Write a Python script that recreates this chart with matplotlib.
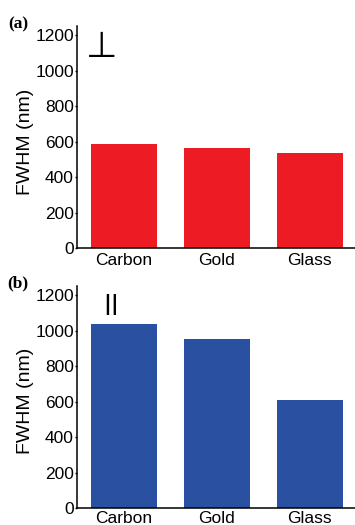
import numpy as np
import matplotlib
matplotlib.use('Agg')
import matplotlib.pyplot as plt

# data
materials = ['Carbon', 'Gold', 'Glass']
fwhm_perp = [587, 563, 535]      # (a) perpendicular polarisation
fwhm_par = [1040, 955, 612]      # (b) parallel polarisation
yticks = [0, 200, 400, 600, 800, 1000, 1200]

plt.rcParams['font.family'] = ['Liberation Sans', 'DejaVu Sans']

fig = plt.figure(figsize=(3.55, 5.25), dpi=100)
W, H = 355.0, 525.0

panels = [
    # (data, colour, axis-zero y px, symbol, sym pos, sym size, sym weight, label, label y px, ylabel y px, xtick pad)
    (fwhm_perp, '#ED1C24', 248.3, '\u22A5', (0.089, 0.908), 26, 'normal', '(a)', 24, 142, 3.5),
    (fwhm_par, '#2A51A1', 508.3, '||', (0.12, 0.92), 15.5, 'bold', '(b)', 283, 401, 1.8),
]

x = np.arange(1, len(materials) + 1)
for vals, col, y0, sym, spos, ssize, sw, lab, laby, ylaby, xpad in panels:
    ax = fig.add_axes([77.3 / W, (H - y0) / H, 279 / W, 221.9 / H])
    ax.bar(x, vals, width=0.707, color=col, edgecolor='none')
    ax.set_xlim(0.5, 3.5)
    ax.set_ylim(0, 1250)
    ax.set_yticks(yticks)
    ax.set_xticks(x)
    ax.set_xticklabels(materials)
    for s in ['top', 'right']:
        ax.spines[s].set_visible(False)
    for s in ['left', 'bottom']:
        ax.spines[s].set_linewidth(1.1)
    ax.tick_params(axis='y', length=1.8, width=1.0, pad=0.6, labelsize=12.5)
    ax.tick_params(axis='x', length=0, pad=xpad, labelsize=12.5)
    fig.text(26 / W, 1 - ylaby / H, 'FWHM (nm)', rotation=90, fontsize=14,
             ha='center', va='center')
    fig.text(18 / W, 1 - laby / H, lab, family=['Liberation Serif', 'DejaVu Serif'],
             fontweight='bold', fontsize=12.5, ha='center', va='center')
    ax.text(spos[0], spos[1], sym, transform=ax.transAxes, fontsize=ssize,
            fontweight=sw, family=['DejaVu Sans'], ha='center', va='center')

fig.savefig('out.png', dpi=100)
